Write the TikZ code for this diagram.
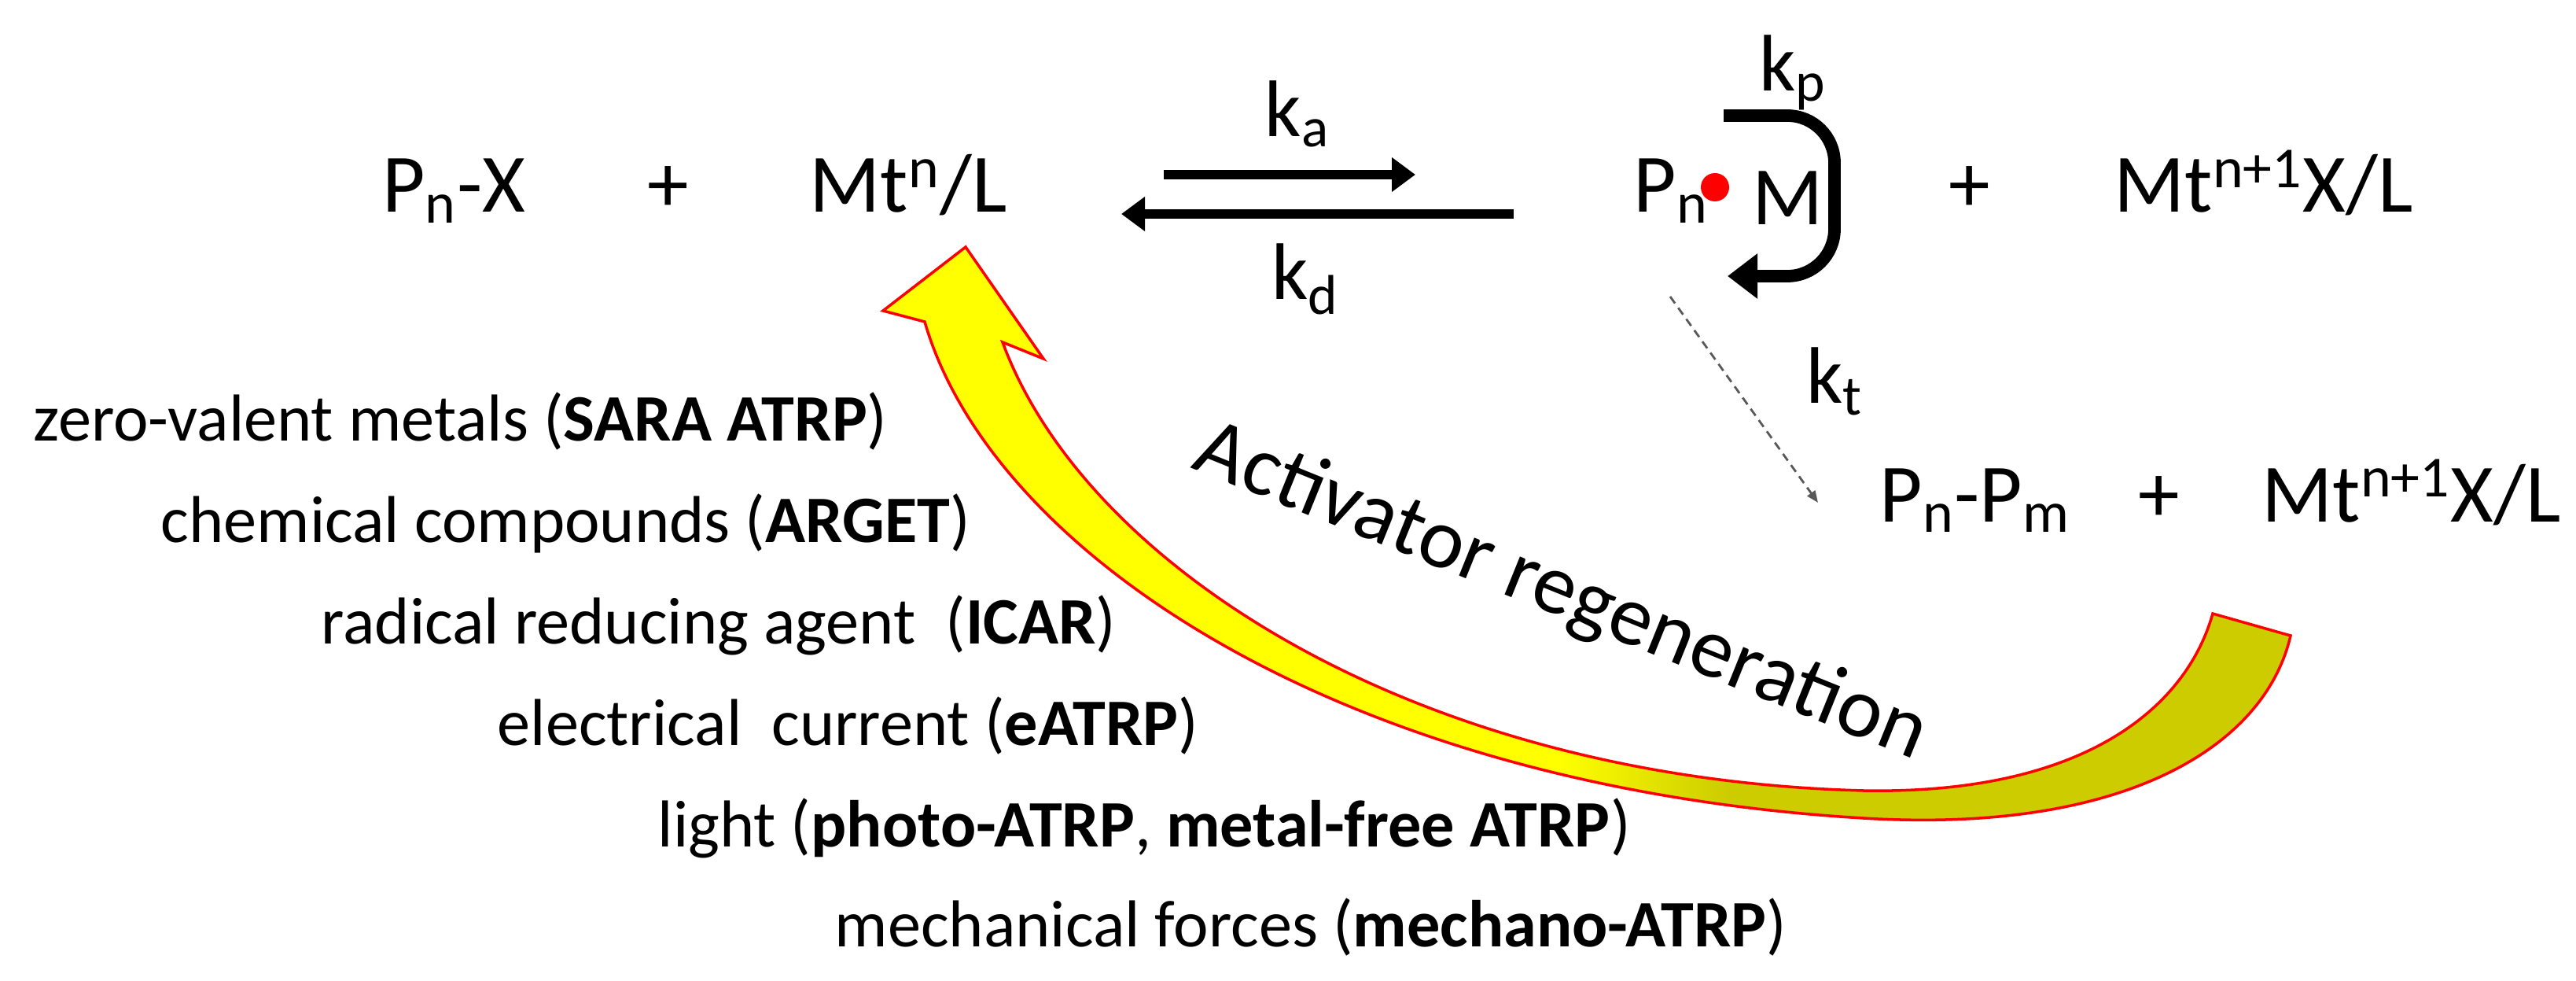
\documentclass[tikz,border=0pt]{standalone}
\usepackage{fontspec}
\setmainfont{Carlito}
\usetikzlibrary{arrows.meta}
\definecolor{tailolive}{RGB}{204,204,0}
\pgfdeclarehorizontalshading{regen}{100bp}{color(0bp)=(yellow); color(49bp)=(yellow); color(55bp)=(tailolive); color(100bp)=(tailolive)}

\begin{document}
\begin{tikzpicture}[
  chem/.style = {font=\fontsize{30}{34}\selectfont, inner sep=0pt},
  rate/.style = {font=\fontsize{29}{32}\selectfont, inner sep=0pt},
  source/.style = {font=\fontsize{24}{28}\selectfont, inner sep=0pt, anchor=base west},
  react/.style = {line width=3.4pt, -{Triangle[length=0.3cm,width=0.42cm]}}]
  \useasboundingbox (0,0) rectangle (32.76,12.46);
  % equilibrium
  \node[chem, anchor=base east] (pnx) at (6.69,9.76) {P\textsubscript{n}-X};
  \node[chem, anchor=base] (plusa) at (8.50,9.76) {+};
  \node[chem, anchor=base west] (mtn) at (10.29,9.76) {Mt\textsuperscript{n}/L};
  \node[chem, anchor=base west] (pn) at (20.77,9.76) {P\textsubscript{n}};
  \node[circle, fill=red, inner sep=0pt, minimum size=0.36cm] (rad) at (21.81,10.08) {};
  \node[chem, anchor=base west] (mono) at (22.28,9.60) {M};
  \node[chem, anchor=base] (plusb) at (25.05,9.76) {+};
  \node[chem, anchor=base west] (mtnx) at (26.88,9.76) {Mt\textsuperscript{n+1}X/L};
  \node[chem, anchor=base west] (pnpm) at (23.90,5.83) {P\textsubscript{n}-P\textsubscript{m}};
  \node[chem, anchor=base] (plusc) at (27.46,5.83) {+};
  \node[chem, anchor=base west] (mtnxt) at (28.76,5.83) {Mt\textsuperscript{n+1}X/L};
  \node[rate] (ka) at (16.50,11.01) {k\textsubscript{a}};
  \node[rate] (kd) at (16.60,8.91) {k\textsubscript{d}};
  \node[rate] (kp) at (22.80,11.54) {k\textsubscript{p}};
  \node[rate] (kt) at (23.33,7.61) {k\textsubscript{t}};
  \coordinate (act-s) at (14.80,10.24);
  \coordinate (act-e) at (18.00,10.24);
  \coordinate (dea-s) at (19.25,9.74);
  \coordinate (dea-e) at (14.26,9.74);
  \coordinate (prop-s) at (21.92,10.99);
  \coordinate (prop-e) at (21.97,8.95);
  \coordinate (term-s) at (21.24,8.69);
  \coordinate (term-e) at (23.12,6.07);
  \draw[react] (act-s) -- (act-e);
  \draw[react] (dea-s) -- (dea-e);
  \draw[line width=4.5pt, rounded corners=0.6cm, -{Triangle[length=0.38cm,width=0.55cm]}]
    (prop-s) -- (23.33,10.99) -- (23.33,8.95) -- (prop-e);
  \draw[densely dashed, gray!70!black, line width=0.8pt, -{Triangle[length=0.15cm,width=0.12cm]}] (term-s) -- (term-e);

  % activator regeneration
  \path[shading=regen, draw=red, line width=1pt]
    (11.76,8.37) .. controls (12.60,5.46) and (17.00,2.46) .. (23.70,2.06)
    .. controls (27.00,1.86) and (28.80,2.96) .. (29.13,4.38)
    -- (28.14,4.66)
    .. controls (27.80,3.46) and (26.50,2.36) .. (23.70,2.41)
    .. controls (18.00,2.56) and (13.80,5.26) .. (12.75,8.11)
    -- (13.27,7.90) -- (12.28,9.32) -- (11.23,8.51) -- cycle;
  \node[font=\fontsize{31}{34}\selectfont, inner sep=0pt, rotate=-22] (regen) at (19.85,4.92) {Activator regeneration};

  % sources
  \node[source] (sara) at (0.42,6.86) {zero-valent metals (\textbf{SARA ATRP})};
  \node[source] (arget) at (2.04,5.57) {chemical compounds (\textbf{ARGET})};
  \node[source] (icar) at (4.08,4.28) {radical reducing agent~ (\textbf{ICAR})};
  \node[source] (eatrp) at (6.32,2.99) {electrical~ current (\textbf{eATRP})};
  \node[source] (light) at (8.36,1.70) {light (\textbf{photo-ATRP}, \textbf{metal-free ATRP})};
  \node[source] (mech) at (10.61,0.43) {mechanical forces (\textbf{mechano-ATRP})};
\end{tikzpicture}
\end{document}
